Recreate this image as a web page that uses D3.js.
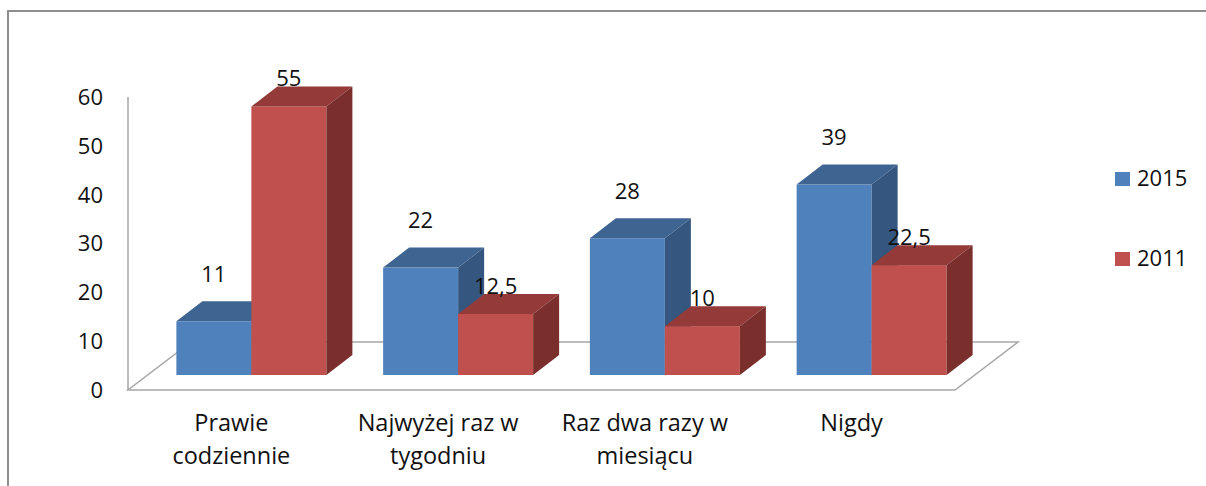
<!DOCTYPE html>
<html><head><meta charset="utf-8"/>
<title>Wykres</title>
<script src="https://d3js.org/d3.v7.min.js"></script>
<style>
  body { margin: 0; padding: 0; background: #fff; }
  svg text { font-family: 'Open Sans', sans-serif; fill: #111; }
</style>
</head>
<body>
<div id="chart"></div>
<script>
// data
const categories = ["Prawie codziennie", "Najwyżej raz w tygodniu", "Raz dwa razy w miesiącu", "Nigdy"];
const categoryLines = [["Prawie", "codziennie"], ["Najwyżej raz w", "tygodniu"], ["Raz dwa razy w", "miesiącu"], ["Nigdy"]];
const seriesNames = ["2015", "2011"];
const values2015 = [11, 22, 28, 39];
const values2011 = [55, 12.5, 10, 22.5];
const yTicks = [0, 10, 20, 30, 40, 50, 60];

const W = 1206, H = 486;
const colors = {
  "2015": { front: "#4F81BD", top: "#3E6492", side: "#34567F" },
  "2011": { front: "#C0504D", top: "#943B39", side: "#7A2F2D" }
};
// label lift above the bar's front top edge, per series
const labelLift = { "2015": 45, "2011": 26 };

const svg = d3.select("#chart").append("svg")
  .attr("width", W).attr("height", H);

// outer frame (runs off the right and bottom edges)
svg.append("rect")
  .attr("x", 8).attr("y", 11).attr("width", 1400).attr("height", 700)
  .attr("fill", "none").attr("stroke", "#8E8E8E").attr("stroke-width", 2);

// front-plane scales
const y = d3.scaleLinear().domain([0, 60]).range([390, 97]);
const x0 = d3.scaleBand().domain(categories).range([128, 955]);
const groupW = 150;
const x1 = d3.scaleBand().domain(seriesNames).range([0, groupW]);

// 3D offsets
const floorD = { dx: 63, dy: 48 };   // full floor depth
const barOff = { dx: 20, dy: 15 };   // bar front plane offset from floor front
const barD = { dx: 26, dy: 20 };     // bar depth

// floor
const fl = x0.range()[0], fr = x0.range()[1], fy = y(0);
svg.append("polygon")
  .attr("points", [[fl, fy], [fr, fy], [fr + floorD.dx, fy - floorD.dy], [fl + floorD.dx, fy - floorD.dy]].join(" "))
  .attr("fill", "none").attr("stroke", "#A6A6A6").attr("stroke-width", 1.5);

// y axis line
svg.append("line")
  .attr("x1", fl).attr("x2", fl).attr("y1", y(60)).attr("y2", y(0))
  .attr("stroke", "#A6A6A6").attr("stroke-width", 1.5);

// y tick labels
svg.append("g").selectAll("text").data(yTicks).join("text")
  .attr("x", 103).attr("y", d => y(d) + 2)
  .attr("text-anchor", "end").attr("dominant-baseline", "middle")
  .attr("font-size", 22)
  .text(d => d);

// bars
const seriesValues = { "2015": values2015, "2011": values2011 };
const bars = [];
categories.forEach((c, i) => {
  seriesNames.forEach(s => {
    bars.push({ cat: c, series: s, value: seriesValues[s][i] });
  });
});

const gBars = svg.append("g");
bars.forEach(b => {
  const xa = x0(b.cat) + (x0.bandwidth() - groupW) / 2 + x1(b.series) + barOff.dx;
  const xb = xa + x1.bandwidth();
  const yt = y(b.value) - barOff.dy;
  const yb = y(0) - barOff.dy;
  const col = colors[b.series];
  const g = gBars.append("g");
  g.append("rect")
    .attr("x", xa).attr("y", yt).attr("width", xb - xa).attr("height", yb - yt)
    .attr("fill", col.front);
  g.append("polygon")
    .attr("points", [[xa, yt], [xb, yt], [xb + barD.dx, yt - barD.dy], [xa + barD.dx, yt - barD.dy]].join(" "))
    .attr("fill", col.top);
  g.append("polygon")
    .attr("points", [[xb, yt], [xb + barD.dx, yt - barD.dy], [xb + barD.dx, yb - barD.dy], [xb, yb]].join(" "))
    .attr("fill", col.side);
  b.cx = (xa + xb) / 2;
  b.ly = yt - labelLift[b.series];
});

// data labels
svg.append("g").selectAll("text").data(bars).join("text")
  .attr("x", d => d.cx).attr("y", d => d.ly)
  .attr("text-anchor", "middle").attr("dominant-baseline", "middle")
  .attr("font-size", 22)
  .text(d => String(d.value).replace(".", ","));

// category labels
const gCat = svg.append("g");
categories.forEach((c, i) => {
  const t = gCat.append("text")
    .attr("x", x0(c) + x0.bandwidth() / 2)
    .attr("y", 425)
    .attr("text-anchor", "middle").attr("dominant-baseline", "middle")
    .attr("font-size", 23.5);
  categoryLines[i].forEach((line, k) => {
    t.append("tspan")
      .attr("x", x0(c) + x0.bandwidth() / 2)
      .attr("dy", k === 0 ? 0 : 33)
      .text(line);
  });
});

// legend
const legend = svg.append("g").selectAll("g").data(seriesNames).join("g")
  .attr("transform", (d, i) => `translate(1115, ${172 + i * 80})`);
legend.append("rect")
  .attr("width", 15).attr("height", 14)
  .attr("fill", d => colors[d].front);
legend.append("text")
  .attr("x", 22).attr("y", 8)
  .attr("dominant-baseline", "middle")
  .attr("font-size", 22)
  .text(d => d);
</script>
</body></html>
